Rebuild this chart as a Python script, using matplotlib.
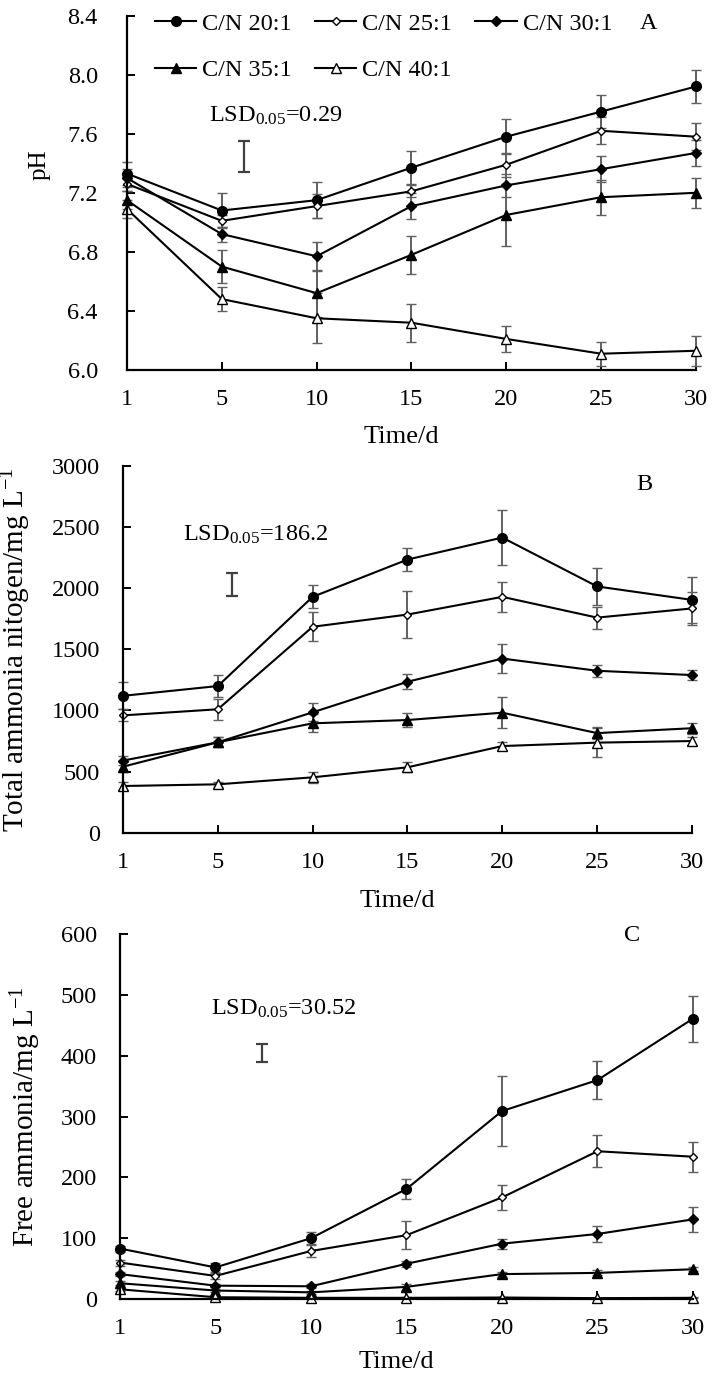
import numpy as np
import matplotlib
matplotlib.use("Agg")
from matplotlib import pyplot as plt

plt.rcParams['font.family'] = ['Liberation Serif', 'DejaVu Serif']
plt.rcParams['mathtext.fontset'] = 'custom'
plt.rcParams['mathtext.rm'] = 'Liberation Serif'
plt.rcParams['mathtext.it'] = 'Liberation Serif:italic'
plt.rcParams['font.size'] = 17.5

days = ['1', '5', '10', '15', '20', '25', '30']
names = ['C/N 20:1', 'C/N 25:1', 'C/N 30:1', 'C/N 35:1', 'C/N 40:1']

# pH
ph_20 = [7.33, 7.08, 7.15, 7.37, 7.58, 7.75, 7.92]
ph_25 = [7.26, 7.01, 7.11, 7.21, 7.39, 7.62, 7.58]
ph_30 = [7.30, 6.92, 6.77, 7.11, 7.25, 7.36, 7.47]
ph_35 = [7.15, 6.70, 6.52, 6.78, 7.05, 7.17, 7.20]
ph_40 = [7.09, 6.48, 6.35, 6.32, 6.21, 6.11, 6.13]
ph_20_err = [0.08, 0.12, 0.12, 0.11, 0.12, 0.11, 0.115]
ph_25_err = [0.05, 0.04, 0.08, 0.04, 0.08, 0.09, 0.09]
ph_30_err = [0.06, 0.05, 0.10, 0.09, 0.08, 0.09, 0.09]
ph_35_err = [0.06, 0.11, 0.16, 0.13, 0.21, 0.12, 0.10]
ph_40_err = [0.06, 0.08, 0.17, 0.13, 0.09, 0.08, 0.10]

# total ammonia nitrogen, mg/L
tan_20 = [1120, 1200, 1930, 2235, 2415, 2015, 1905]
tan_25 = [960, 1010, 1685, 1785, 1930, 1760, 1835]
tan_30 = [590, 740, 985, 1235, 1425, 1325, 1290]
tan_35 = [540, 740, 895, 922, 982, 815, 855]
tan_40 = [382, 396, 453, 535, 709, 737, 750]
tan_20_err = [110, 90, 95, 95, 225, 150, 190]
tan_25_err = [50, 85, 120, 190, 120, 90, 135]
tan_30_err = [40, 40, 75, 60, 120, 50, 40]
tan_35_err = [40, 40, 75, 60, 125, 50, 45]
tan_40_err = [30, 20, 45, 40, 35, 120, 30]

# free ammonia, mg/L
fa_20 = [83, 52, 100, 181, 309, 360, 461]
fa_25 = [60, 38, 79, 105, 167, 243, 234]
fa_30 = [41, 22, 21, 58, 91, 107, 131]
fa_35 = [26, 14, 11, 20, 41, 43, 49]
fa_40 = [16, 3, 2, 2, 2.5, 1.5, 2]
fa_20_err = [5, 8, 10, 16, 58, 31, 38]
fa_25_err = [5, 5, 10, 23, 20, 26, 25]
fa_30_err = [3, 3, 3, 5, 8, 13, 20]
fa_35_err = [3, 2, 2, 5, 4, 4, 3]
fa_40_err = [2, 1, 1, 1, 1, 1, 1]

# LSD values shown in each panel
lsd_text = ['0.29', '186.2', '30.52']

# marker styles per C/N ratio
styles = [
    dict(marker='o', ms=7, mfc='black'),
    dict(marker='D', ms=4.5, mfc='white'),
    dict(marker='D', ms=5.5, mfc='black'),
    dict(marker='^', ms=7.5, mfc='black'),
    dict(marker='^', ms=7, mfc='white'),
]


def draw_panel(ax, series, errors, ylim, yticks, ytl, ylabel, ypad, ylsize):
    """draw one panel"""
    x = np.arange(len(days))
    handles = []
    for vals, err, st in zip(series, errors, styles):
        c = ax.errorbar(x, vals, yerr=err, color='black', lw=1.5,
                        mec='black', mew=1.0, ecolor='#606060',
                        elinewidth=1.4, capsize=3.5, capthick=1.4, **st)
        handles.append(c[0])
    for art in ax.lines + ax.collections:
        art.set_clip_on(False)
    ax.set_xlim(0, 6)
    ax.set_ylim(*ylim)
    ax.set_xticks(x, days)
    ax.set_yticks(yticks, ytl)
    for s in ['top', 'right']:
        ax.spines[s].set_visible(False)
    for s in ['left', 'bottom']:
        ax.spines[s].set_linewidth(1.6)
    ax.tick_params(axis='both', direction='in', length=6, width=1.4)
    ax.tick_params(axis='x', pad=14)
    ax.tick_params(axis='y', pad=ypad)
    ax.set_xlabel('Time/d', fontsize=19)
    ax.set_ylabel(ylabel, fontsize=ylsize)
    return handles


def add_lsd(ax, text, tx, ty, bx, by, half):
    """LSD annotation and bar"""
    ax.text(tx, ty, r'LSD$_{\mathrm{0.05}}$=' + text, ha='left', va='center')
    ax.errorbar([bx], [by], yerr=[half], fmt='none', ecolor='#404040',
                elinewidth=1.6, capsize=4, capthick=1.6)


def main():
    """main"""
    fig = plt.figure(figsize=(7.15, 13.83), dpi=100)
    ax1 = fig.add_axes([0.1776, 0.7325, 0.7958, 0.2562])
    ax2 = fig.add_axes([0.1720, 0.3979, 0.7958, 0.2651])
    ax3 = fig.add_axes([0.1678, 0.0607, 0.8014, 0.2639])

    h = draw_panel(ax1, [ph_20, ph_25, ph_30, ph_35, ph_40],
                   [ph_20_err, ph_25_err, ph_30_err, ph_35_err, ph_40_err],
                   (6.0, 8.4), np.arange(6.0, 8.41, 0.4),
                   ['%.1f' % v for v in np.arange(6.0, 8.41, 0.4)],
                   'pH', 21, 18)
    ax1.yaxis.set_label_coords(-0.135, 0.58)
    ax1.xaxis.set_label_coords(0.483, -0.158)
    ax1.legend([h[0], h[3], h[1], h[4], h[2]],
               [names[0], names[3], names[1], names[4], names[2]],
               ncol=3, frameon=False, loc='upper left',
               bbox_to_anchor=(0.049, 1.0076), borderaxespad=0, borderpad=0,
               handlelength=1.7, handletextpad=0.25, columnspacing=0.95,
               labelspacing=0.99)
    ax1.text(0.916, 0.979, 'A', transform=ax1.transAxes, ha='center', va='center')
    add_lsd(ax1, lsd_text[0], 0.865, 7.72, 1.23, 7.445, 0.103)

    draw_panel(ax2, [tan_20, tan_25, tan_30, tan_35, tan_40],
               [tan_20_err, tan_25_err, tan_30_err, tan_35_err, tan_40_err],
               (0, 3000), np.arange(0, 3001, 500),
               [str(v) for v in range(0, 3001, 500)],
               r'Total ammonia nitogen/mg L$^{\mathrm{-1}}$', 16.5, 21)
    ax2.yaxis.set_label_coords(-0.158, 0.5)
    ax2.xaxis.set_label_coords(0.483, -0.156)
    ax2.text(0.917, 0.949, 'B', transform=ax2.transAxes, ha='center', va='center')
    add_lsd(ax2, lsd_text[1], 0.633, 2440, 1.15, 2031, 92)

    draw_panel(ax3, [fa_20, fa_25, fa_30, fa_35, fa_40],
               [fa_20_err, fa_25_err, fa_30_err, fa_35_err, fa_40_err],
               (0, 600), np.arange(0, 601, 100),
               [str(v) for v in range(0, 601, 100)],
               r'Free ammonia/mg L$^{\mathrm{-1}}$', 16.5, 21)
    ax3.yaxis.set_label_coords(-0.134, 0.5)
    ax3.xaxis.set_label_coords(0.483, -0.142)
    ax3.text(0.894, 0.997, 'C', transform=ax3.transAxes, ha='center', va='center')
    add_lsd(ax3, lsd_text[2], 0.953, 477, 1.49, 404.5, 14.5)

    fig.savefig('out.png', dpi=100)


if __name__ == "__main__":
    main()
